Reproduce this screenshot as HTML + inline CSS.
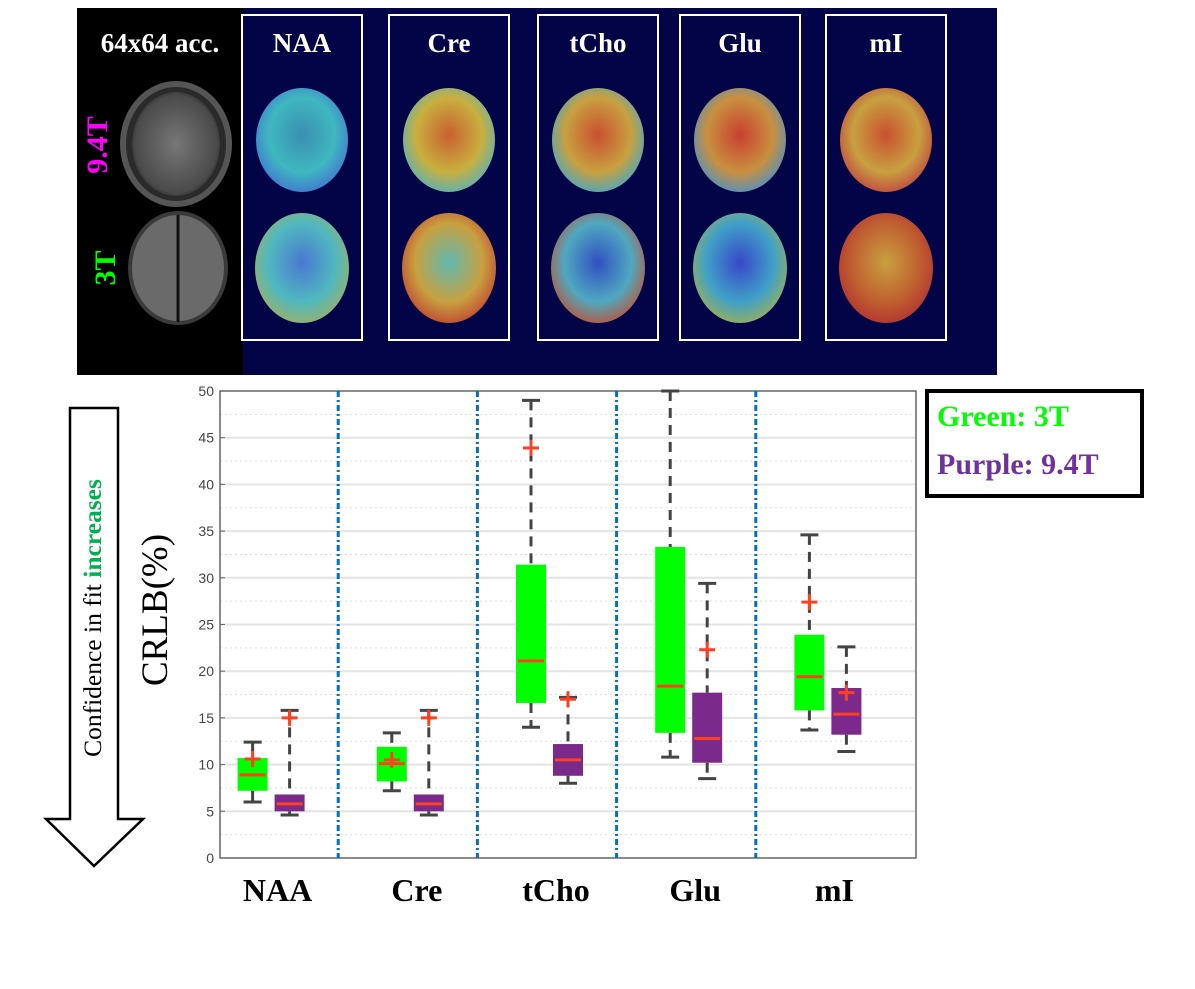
<!DOCTYPE html>
<html><head><meta charset="utf-8"><style>
body{margin:0;background:#fff;width:1195px;height:989px;overflow:hidden}
svg{display:block}
</style></head><body>
<svg id="fig" width="1195" height="989" xmlns="http://www.w3.org/2000/svg" font-family="Liberation Serif, serif">
<defs>
<radialGradient id="gNAAt" cx="50%" cy="45%" r="60%"><stop offset="0" stop-color="#3a8fb0"/><stop offset="0.6" stop-color="#3fb7c0"/><stop offset="1" stop-color="#4070d0"/></radialGradient>
<radialGradient id="gNAAb" cx="50%" cy="45%" r="60%"><stop offset="0" stop-color="#4a78d0"/><stop offset="0.6" stop-color="#50b8c0"/><stop offset="1" stop-color="#a0b060"/></radialGradient>
<radialGradient id="gCret" cx="50%" cy="45%" r="60%"><stop offset="0" stop-color="#c86030"/><stop offset="0.6" stop-color="#c8b040"/><stop offset="1" stop-color="#50b0c0"/></radialGradient>
<radialGradient id="gCreb" cx="50%" cy="45%" r="60%"><stop offset="0" stop-color="#60b8b0"/><stop offset="0.6" stop-color="#c8a040"/><stop offset="1" stop-color="#c04030"/></radialGradient>
<radialGradient id="gChot" cx="50%" cy="45%" r="60%"><stop offset="0" stop-color="#c85030"/><stop offset="0.6" stop-color="#c8a040"/><stop offset="1" stop-color="#40a8c8"/></radialGradient>
<radialGradient id="gChob" cx="50%" cy="45%" r="60%"><stop offset="0" stop-color="#3050c0"/><stop offset="0.6" stop-color="#50a8c0"/><stop offset="1" stop-color="#c05030"/></radialGradient>
<radialGradient id="gGlut" cx="50%" cy="45%" r="60%"><stop offset="0" stop-color="#c84030"/><stop offset="0.6" stop-color="#c89040"/><stop offset="1" stop-color="#4890c8"/></radialGradient>
<radialGradient id="gGlub" cx="50%" cy="45%" r="60%"><stop offset="0" stop-color="#3848c8"/><stop offset="0.6" stop-color="#40a0c8"/><stop offset="1" stop-color="#a0b050"/></radialGradient>
<radialGradient id="gmIt" cx="50%" cy="45%" r="60%"><stop offset="0" stop-color="#c85030"/><stop offset="0.6" stop-color="#c8a040"/><stop offset="1" stop-color="#c04040"/></radialGradient>
<radialGradient id="gmIb" cx="50%" cy="45%" r="60%"><stop offset="0" stop-color="#c8a040"/><stop offset="0.6" stop-color="#c06030"/><stop offset="1" stop-color="#b03030"/></radialGradient>
<radialGradient id="gGray" cx="50%" cy="50%" r="55%"><stop offset="0" stop-color="#777"/><stop offset="0.85" stop-color="#4a4a4a"/><stop offset="1" stop-color="#222"/></radialGradient>
</defs>

<rect x="77" y="8" width="166" height="367" fill="#000"/>
<rect x="243" y="8" width="754" height="367" fill="#030347"/>
<text x="160" y="52" font-size="27" font-weight="bold" fill="#fff" text-anchor="middle">64x64 acc.</text>
<text transform="translate(107,145) rotate(-90)" font-size="30" font-weight="bold" fill="#ff00ff" text-anchor="middle">9.4T</text>
<text transform="translate(115,268) rotate(-90)" font-size="30" font-weight="bold" fill="#00ff00" text-anchor="middle">3T</text>
<ellipse cx="176" cy="144" rx="53" ry="60" fill="#2a2a2a" stroke="#555" stroke-width="6"/>
<ellipse cx="176" cy="144" rx="44" ry="52" fill="url(#gGray)"/>
<ellipse cx="178" cy="268" rx="48" ry="55" fill="#6a6a6a" stroke="#3a3a3a" stroke-width="4"/>
<line x1="178" y1="215" x2="178" y2="322" stroke="#111" stroke-width="3"/>

<g id="maps"></g>

<polygon points="70,408 118,408 118,819 143,819 94,866 46,819 70,819" fill="#fff" stroke="#000" stroke-width="2.5"/>
<text transform="translate(101,618) rotate(-90)" font-size="25.5" text-anchor="middle">Confidence in fit <tspan fill="#00b050" font-weight="bold">increases</tspan></text>
<text transform="translate(167,610) rotate(-90)" font-size="37" text-anchor="middle">CRLB(%)</text>

<g id="chart"></g>

<rect x="927" y="391" width="215" height="105" fill="#fff" stroke="#000" stroke-width="4"/>
<text x="937" y="426" font-size="30" font-weight="bold" fill="#00ff00">Green: 3T</text>
<text x="937" y="474" font-size="30" font-weight="bold" fill="#7030a0">Purple: 9.4T</text>
</svg>
<script>
const NS='http://www.w3.org/2000/svg';
function mk(tag,attrs,parent){const e=document.createElementNS(NS,tag);for(const k in attrs)e.setAttribute(k,attrs[k]);parent.appendChild(e);return e;}

const mapNames=['NAA','Cre','tCho','Glu','mI'];
const mapIds=['NAA','Cre','Cho','Glu','mI'];
const frameX=[242,389,538,680,826];
const mg=document.getElementById('maps');
mapNames.forEach((n,i)=>{
  const x=frameX[i];
  const f=mk('rect',{x:x,y:15,width:120,height:325,fill:'none',stroke:'#fff','stroke-width':2},mg);
  
  
  const t=mk('text',{x:x+60,y:52,'font-size':27,'font-weight':'bold',fill:'#fff','text-anchor':'middle'},mg);
  t.textContent=n;
  
  
  const b1=mk('ellipse',{cx:x+60,cy:140,rx:46,ry:52,fill:'url(#g'+mapIds[i]+'t)'},mg);
  
  
  const b2=mk('ellipse',{cx:x+60,cy:268,rx:47,ry:55,fill:'url(#g'+mapIds[i]+'b)'},mg);
  
  
});

const categories=['NAA','Cre','tCho','Glu','mI'];
const greenLow=[6,7.2,14,10.8,13.7];
const greenQ1=[7.2,8.2,16.6,13.4,15.8];
const greenMed=[8.9,10.1,21.1,18.4,19.4];
const greenQ3=[10.7,11.9,31.4,33.3,23.9];
const greenHigh=[12.4,13.4,49,50,34.6];
const greenPlus=[10.6,10.5,43.9,null,27.4];
const purpleLow=[4.6,4.6,8,8.5,11.4];
const purpleQ1=[5,5,8.8,10.2,13.2];
const purpleMed=[5.8,5.8,10.5,12.8,15.4];
const purpleQ3=[6.8,6.8,12.2,17.7,18.2];
const purpleHigh=[15.8,15.8,17.2,29.4,22.6];
const purplePlus=[15,15,17,22.3,17.7];
const yTicks=[0,5,10,15,20,25,30,35,40,45,50];

const L=220,R=916,T=391,B=858,ymax=50;
const yS=v=>B-(v/ymax)*(B-T);
const slotW=(R-L)/categories.length;
const xC=i=>L+slotW*(i+0.5);
const cg=document.getElementById('chart');
for(let v=2.5;v<50;v+=5){mk('line',{x1:L,x2:R,y1:yS(v),y2:yS(v),stroke:'#ddd','stroke-dasharray':'2,3'},cg);}
yTicks.forEach(v=>{
  if(v>0&&v<50)mk('line',{x1:L,x2:R,y1:yS(v),y2:yS(v),stroke:'#e4e4e4','stroke-width':2},cg);
  mk('line',{x1:L,x2:L+5,y1:yS(v),y2:yS(v),stroke:'#666'},cg);
  const t=mk('text',{x:L-6,y:yS(v)+5,'font-size':14,'font-family':'Liberation Sans, sans-serif',fill:'#444','text-anchor':'end'},cg);
  t.textContent=v;
  
  
});
const ax=mk('rect',{x:L,y:T,width:R-L,height:B-T,fill:'none',stroke:'#666','stroke-width':1.5},cg);


for(let i=1;i<categories.length;i++){
  const d=mk('line',{x1:L+slotW*i-21,x2:L+slotW*i-21,y1:T,y2:B,stroke:'#0070c0','stroke-width':3,'stroke-dasharray':'6,3,2,3'},cg);
  
  
}
function box(cx,lo,q1,med,q3,hi,plus,color,name){
  const g=mk('g',{},cg);
  
  
  mk('line',{x1:cx,x2:cx,y1:yS(hi),y2:yS(q3),stroke:'#444','stroke-width':3,'stroke-dasharray':'10,7'},g);
  mk('line',{x1:cx,x2:cx,y1:yS(q1),y2:yS(lo),stroke:'#444','stroke-width':3,'stroke-dasharray':'10,7'},g);
  mk('line',{x1:cx-9,x2:cx+9,y1:yS(hi),y2:yS(hi),stroke:'#444','stroke-width':3},g);
  mk('line',{x1:cx-9,x2:cx+9,y1:yS(lo),y2:yS(lo),stroke:'#444','stroke-width':3},g);
  mk('rect',{x:cx-15,y:yS(q3),width:30,height:yS(q1)-yS(q3),fill:color},g);
  mk('line',{x1:cx-13,x2:cx+13,y1:yS(med),y2:yS(med),stroke:'#ff4020','stroke-width':3},g);
  if(plus!==null){
    mk('line',{x1:cx-8,x2:cx+8,y1:yS(plus),y2:yS(plus),stroke:'#ff4020','stroke-width':3},g);
    mk('line',{x1:cx,x2:cx,y1:yS(plus)-8,y2:yS(plus)+8,stroke:'#ff4020','stroke-width':3},g);
  }
}
categories.forEach((c,i)=>{
  box(xC(i)-37,greenLow[i],greenQ1[i],greenMed[i],greenQ3[i],greenHigh[i],greenPlus[i],'#00ff00','box-3t-'+c.toLowerCase());
  box(xC(i),purpleLow[i],purpleQ1[i],purpleMed[i],purpleQ3[i],purpleHigh[i],purplePlus[i],'#7b2a8c','box-9-4t-'+c.toLowerCase());
  const t=mk('text',{x:xC(i)-12,y:901,'font-size':32,'font-weight':'bold','text-anchor':'middle'},cg);
  t.textContent=c;
  
  
});
</script>
</body></html>
